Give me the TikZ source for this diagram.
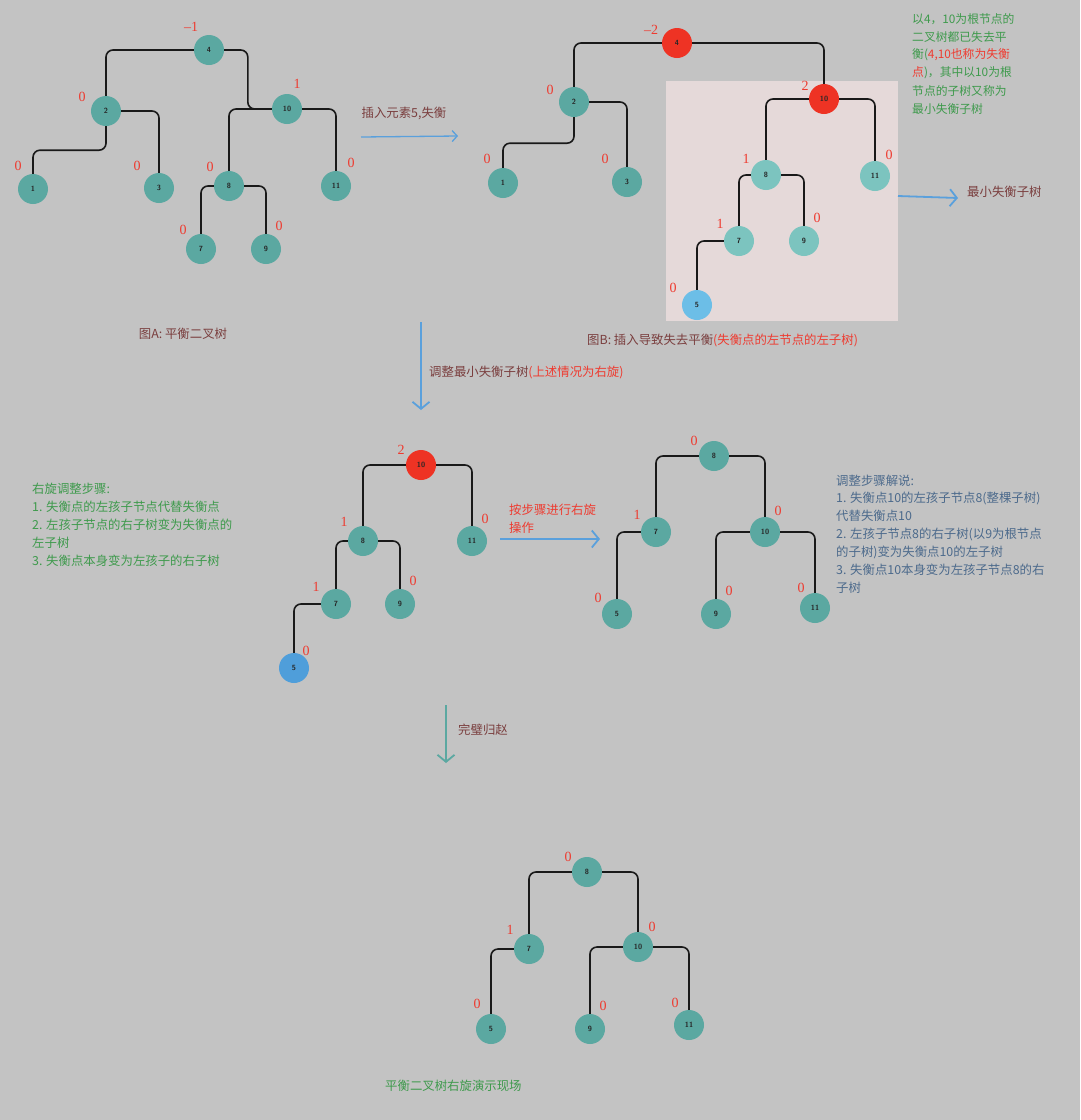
\documentclass[tikz,border=0pt]{standalone}
\usepackage{fontspec}
\newfontfamily\cjk{Noto Sans CJK SC}
\newfontfamily\bff{Liberation Serif}
\usetikzlibrary{arrows.meta}
\definecolor{bg}{HTML}{C3C3C3}
\definecolor{tealN}{HTML}{5BA8A1}
\definecolor{tealL}{HTML}{7CC4BF}
\definecolor{redN}{HTML}{EE3324}
\definecolor{blueA}{HTML}{6CBEE7}
\definecolor{blueB}{HTML}{4F9EDA}
\definecolor{hl}{HTML}{E5D9D9}
\definecolor{bfc}{HTML}{EE3B30}
\definecolor{brownT}{HTML}{7A3E3E}
\definecolor{greenT}{HTML}{3E9A4C}
\definecolor{blueT}{HTML}{4C6A8C}
\definecolor{arrowB}{HTML}{5AA0DC}
\tikzset{
  nd/.style={circle, minimum size=30pt, inner sep=0pt, fill=tealN, text=black!85,
    font=\sffamily\bfseries\fontsize{7.5}{7.5}\selectfont},
  rednd/.style={nd, fill=redN},
  lnd/.style={nd, fill=tealL},
  bluend/.style={nd, fill=blueA},
  bluend2/.style={nd, fill=blueB},
  edge/.style={black!90, line width=1.6pt, rounded corners=7pt},
  bfl/.style={text=bfc, inner sep=0pt, font=\bff\fontsize{14}{14}\selectfont},
  arr/.style={arrowB, line width=1.8pt, -{Straight Barb[length=7pt,width=17pt]}},
  txt/.style={font=\cjk\fontsize{12.4}{13}\selectfont, anchor=west, inner sep=0pt},
  txts/.style={font=\cjk\fontsize{11.8}{13}\selectfont, anchor=west, inner sep=0pt},
}
\begin{document}
\begin{tikzpicture}[x=1pt,y=-1pt]
\useasboundingbox (0,0) rectangle (1080,1120);
\fill[bg] (0,0) rectangle (1080,1120);
\fill[hl] (666,81) rectangle (898,321);

% ---------------- Tree A
\node[nd] (a4) at (209,50) {4};
\node[nd] (a2) at (106,111) {2};
\node[nd] (a10) at (287,109) {10};
\node[nd] (a1) at (33,189) {1};
\node[nd] (a3) at (159,188) {3};
\node[nd] (a8) at (229,186) {8};
\node[nd] (a11) at (336,186) {11};
\node[nd] (a7) at (201,249) {7};
\node[nd] (a9) at (266,249) {9};
\draw[edge] (a4.west) -| (a2.north);
\draw[edge] (a4.east) -| ([xshift=-24pt]a10.west) -- (a10.west);
\draw[edge] (a10.west) -| (a8.north);
\draw[edge] (a10.east) -| (a11.north);
\draw[edge] (a2.east) -| (a3.north);
\draw[edge] (a2.south) -- ++(0,24) -| (a1.north);
\draw[edge] (a8.west) -| (a7.north);
\draw[edge] (a8.east) -| (a9.north);
\node[bfl] (ba4) at (191,27) {–1};
\node[bfl] (ba2) at (82,97) {0};
\node[bfl] (ba10) at (297,84) {1};
\node[bfl] (ba1) at (18,166) {0};
\node[bfl] (ba3) at (137,166) {0};
\node[bfl] (ba8) at (210,167) {0};
\node[bfl] (ba11) at (351,163) {0};
\node[bfl] (ba7) at (183,230) {0};
\node[bfl] (ba9) at (279,226) {0};

% ---------------- Tree B
\node[rednd] (b4) at (677,43) {4};
\node[nd] (b2) at (574,102) {2};
\node[nd] (b1) at (503,183) {1};
\node[nd] (b3) at (627,182) {3};
\node[rednd] (b10) at (824,99) {10};
\node[lnd] (b8) at (766,175) {8};
\node[lnd] (b11) at (875,176) {11};
\node[lnd] (b7) at (739,241) {7};
\node[lnd] (b9) at (804,241) {9};
\node[bluend] (b5) at (697,305) {5};
\draw[edge] (b4.west) -| (b2.north);
\draw[edge] (b4.east) -| (b10.north);
\draw[edge] (b2.east) -| (b3.north);
\draw[edge] (b2.south) -- ++(0,26) -| (b1.north);
\draw[edge] (b10.west) -| (b8.north);
\draw[edge] (b10.east) -| (b11.north);
\draw[edge] (b8.west) -| (b7.north);
\draw[edge] (b8.east) -| (b9.north);
\draw[edge] (b7.west) -| (b5.north);
\node[bfl] (bb4) at (651,30) {–2};
\node[bfl] (bb2) at (550,90) {0};
\node[bfl] (bb1) at (487,159) {0};
\node[bfl] (bb3) at (605,159) {0};
\node[bfl] (bb10) at (805,86) {2};
\node[bfl] (bb8) at (746,159) {1};
\node[bfl] (bb11) at (889,155) {0};
\node[bfl] (bb7) at (720,224) {1};
\node[bfl] (bb9) at (817,218) {0};
\node[bfl] (bb5) at (673,288) {0};

% ---------------- Tree C (before rotation)
\node[rednd] (c10) at (421,465) {10};
\node[nd] (c8) at (363,541) {8};
\node[nd] (c11) at (472,541) {11};
\node[nd] (c7) at (336,604) {7};
\node[nd] (c9) at (400,604) {9};
\node[bluend2] (c5) at (294,668) {5};
\draw[edge] (c10.west) -| (c8.north);
\draw[edge] (c10.east) -| (c11.north);
\draw[edge] (c8.west) -| (c7.north);
\draw[edge] (c8.east) -| (c9.north);
\draw[edge] (c7.west) -| (c5.north);
\node[bfl] (bc10) at (401,450) {2};
\node[bfl] (bc8) at (344,522) {1};
\node[bfl] (bc11) at (485,519) {0};
\node[bfl] (bc7) at (316,587) {1};
\node[bfl] (bc9) at (413,581) {0};
\node[bfl] (bc5) at (306,651) {0};

% ---------------- Tree D (after rotation)
\node[nd] (d8) at (714,456) {8};
\node[nd] (d7) at (656,532) {7};
\node[nd] (d10) at (765,532) {10};
\node[nd] (d5) at (617,614) {5};
\node[nd] (d9) at (716,614) {9};
\node[nd] (d11) at (815,608) {11};
\draw[edge] (d8.west) -| (d7.north);
\draw[edge] (d8.east) -| (d10.north);
\draw[edge] (d7.west) -| (d5.north);
\draw[edge] (d10.west) -| (d9.north);
\draw[edge] (d10.east) -| (d11.north);
\node[bfl] (bd8) at (694,441) {0};
\node[bfl] (bd7) at (637,515) {1};
\node[bfl] (bd10) at (778,511) {0};
\node[bfl] (bd5) at (598,598) {0};
\node[bfl] (bd9) at (729,591) {0};
\node[bfl] (bd11) at (801,588) {0};

% ---------------- Tree E (final)
\node[nd] (e8) at (587,872) {8};
\node[nd] (e7) at (529,949) {7};
\node[nd] (e10) at (638,947) {10};
\node[nd] (e5) at (491,1029) {5};
\node[nd] (e9) at (590,1029) {9};
\node[nd] (e11) at (689,1025) {11};
\draw[edge] (e8.west) -| (e7.north);
\draw[edge] (e8.east) -| (e10.north);
\draw[edge] (e7.west) -| (e5.north);
\draw[edge] (e10.west) -| (e9.north);
\draw[edge] (e10.east) -| (e11.north);
\node[bfl] (be8) at (568,857) {0};
\node[bfl] (be7) at (510,930) {1};
\node[bfl] (be10) at (652,927) {0};
\node[bfl] (be5) at (477,1004) {0};
\node[bfl] (be9) at (603,1006) {0};
\node[bfl] (be11) at (675,1003) {0};

% ---------------- Arrows
\coordinate (p1s) at (361,137); \coordinate (p1e) at (458,136);
\draw[arr, line width=1.3pt, -{Straight Barb[length=5pt,width=11pt]}] (p1s) -- (p1e);
\coordinate (p2s) at (898,196); \coordinate (p2e) at (958,198);
\draw[arr] (p2s) -- (p2e);
\coordinate (p3s) at (421,322); \coordinate (p3e) at (421,410);
\draw[arr] (p3s) -- (p3e);
\coordinate (p4s) at (500,539); \coordinate (p4e) at (600,539);
\draw[arr] (p4s) -- (p4e);
\coordinate (p5s) at (446,705); \coordinate (p5e) at (446,763);
\draw[arr, tealN] (p5s) -- (p5e);

% ---------------- Texts
\node[txt, anchor=center, text=brownT] (t1) at (404,113) {插入元素5,失衡};
\node[txt, text=brownT] (t2) at (967,192) {最小失衡子树};
\node[txt, anchor=center, text=brownT] (t3) at (183,334) {图A: 平衡二叉树};
\node[txt, text=brownT] (t4) at (587,340) {图B: 插入导致失去平衡\textcolor{bfc}{(失衡点的左节点的左子树)}};
\node[txt, text=brownT] (t5) at (429,372) {调整最小失衡子树\textcolor{bfc}{(上述情况为右旋)}};
\node[txt, text=bfc] (t6) at (509,510) {按步骤进行右旋};
\node[txt, text=bfc] (t7) at (509,528) {操作};
\node[txt, text=brownT] (t8) at (458,730) {完璧归赵};
\node[txt, text=greenT] (t9) at (385,1086) {平衡二叉树右旋演示现场};

\node[txts, text=greenT] (g1) at (912,19) {以4，10为根节点的};
\node[txts, text=greenT] (g2) at (912,37) {二叉树都已失去平};
\node[txts, text=greenT] (g3) at (912,55) {衡(\textcolor{bfc}{4,10也称为失衡}};
\node[txts, text=greenT] (g4) at (912,73) {\textcolor{bfc}{点})，其中以10为根};
\node[txts, text=greenT] (g5) at (912,91) {节点的子树又称为};
\node[txts, text=greenT] (g6) at (912,109) {最小失衡子树};

\node[txt, text=greenT] (l1) at (32,489) {右旋调整步骤:};
\node[txt, text=greenT] (l2) at (32,507) {1. 失衡点的左孩子节点代替失衡点};
\node[txt, text=greenT] (l3) at (32,525) {2. 左孩子节点的右子树变为失衡点的};
\node[txt, text=greenT] (l4) at (32,543) {左子树};
\node[txt, text=greenT] (l5) at (32,561) {3. 失衡点本身变为左孩子的右子树};

\node[txt, text=blueT] (r1) at (836,481) {调整步骤解说:};
\node[txt, text=blueT] (r2) at (836,498) {1. 失衡点10的左孩子节点8(整棵子树)};
\node[txt, text=blueT] (r3) at (836,516) {代替失衡点10};
\node[txt, text=blueT] (r4) at (836,534) {2. 左孩子节点8的右子树(以9为根节点};
\node[txt, text=blueT] (r5) at (836,552) {的子树)变为失衡点10的左子树};
\node[txt, text=blueT] (r6) at (836,570) {3. 失衡点10本身变为左孩子节点8的右};
\node[txt, text=blueT] (r7) at (836,588) {子树};
\end{tikzpicture}
\end{document}
